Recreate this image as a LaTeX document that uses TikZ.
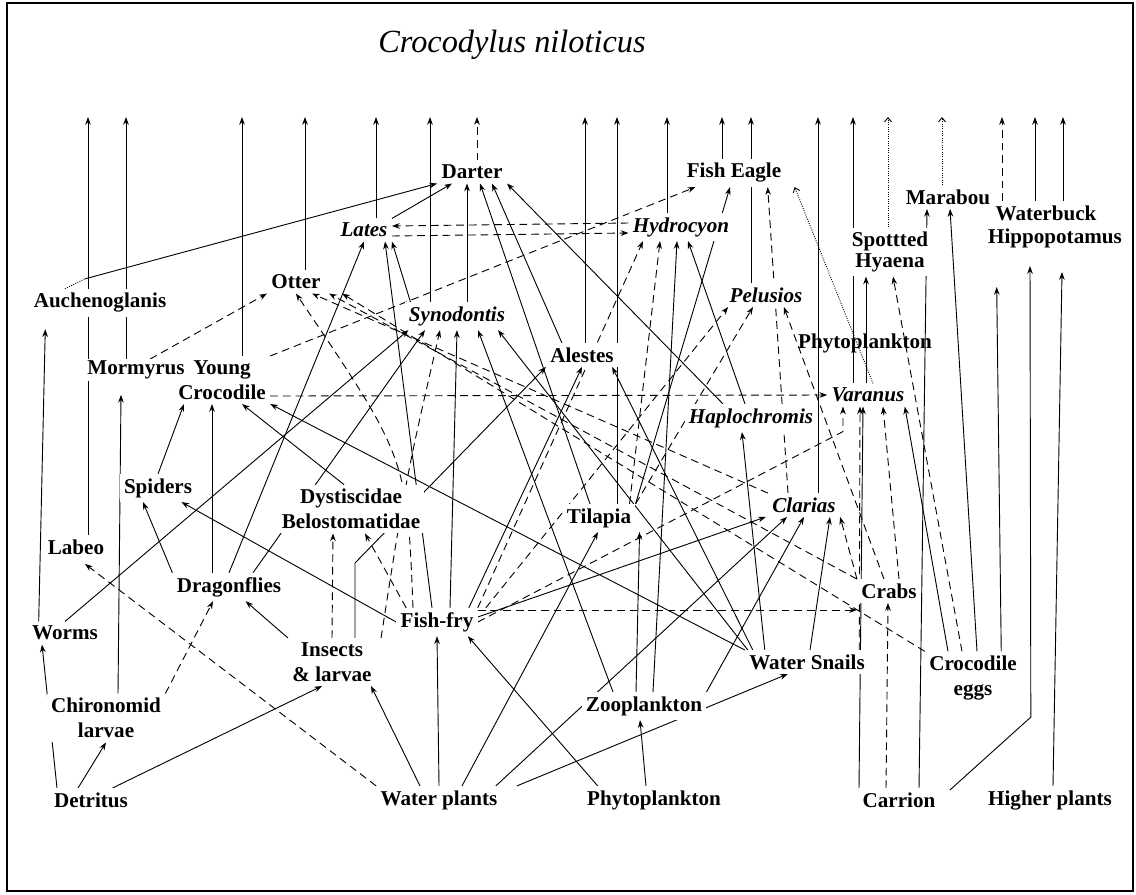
\documentclass[tikz,border=0pt]{standalone}
\usepackage{fontspec}
\setmainfont{Liberation Serif}
\usetikzlibrary{arrows.meta,backgrounds,calc}
\begin{document}
\begin{tikzpicture}[x=0.025cm,y=-0.025cm,
        lab/.style={font=\bfseries\fontsize{15}{17.8}\selectfont,align=center,inner sep=3pt,fill=white},
        ilab/.style={lab,font=\bfseries\itshape\fontsize{15}{17.8}\selectfont},
        ar/.style={-{Stealth[length=5.5pt,width=4pt]},line width=0.65pt},
        da/.style={ar,dash pattern=on 5.5pt off 3.5pt},
        dt/.style={-{Straight Barb[length=3pt,width=5pt]},line width=0.65pt,densely dotted}]
        \useasboundingbox (0,0) rectangle (1136,894);
        \draw[line width=1pt] (7,3) rectangle (1133,891);
        \node[font=\itshape\fontsize{23}{27}\selectfont] (title) at (512,45) {Crocodylus niloticus};

        % predatori
        \node[lab] (darter) at (472,172) {Darter};
        \node[lab] (fisheagle) at (734,173) {Fish Eagle};
        \node[ilab] (lates) at (364,230) {Lates};
        \node[ilab] (hydrocyon) at (681,227) {Hydrocyon};
        \node[lab] (marabou) at (948,197) {Marabou};
        \node[lab] (waterbuck) at (1046,213) {Waterbuck};
        \node[lab] (hippo) at (1055,238) {Hippopotamus};
        \node[lab,font=\bfseries\fontsize{15}{15}\selectfont] (hyaena) at (890,252) {Spottted\\Hyaena};
        \node[lab] (otter) at (296,282) {Otter};
        \node[lab] (auch) at (100,303) {Auchenoglanis};
        \node[ilab] (synodontis) at (457,316) {Synodontis};
        \node[ilab] (pelusios) at (766,295) {Pelusios};
        \node[lab,fill=none] (phytoup) at (865,343) {Phytoplankton};
        \node[lab] (youngcroc) at (222,380) {Young\\Crocodile};
        \node[lab,inner sep=1pt] (mormyrus) at (136,370) {Mormyrus};
        \node[lab] (alestes) at (582,355) {Alestes};
        \node[ilab] (varanus) at (868,395) {Varanus};
        \node[ilab] (haplo) at (751,418) {Haplochromis};
        % prede
        \node[lab] (spiders) at (158,488) {Spiders};
        \node[lab] (dyst) at (351,509) {Dystiscidae\\Belostomatidae};
        \node[lab] (tilapia) at (599,518) {Tilapia};
        \node[ilab] (clarias) at (804,505) {Clarias};
        \node[lab] (labeo) at (76,547) {Labeo};
        \node[lab] (dragonflies) at (229,587) {Dragonflies};
        \node[lab] (crabs) at (889,591) {Crabs};
        \node[lab] (worms) at (65,633) {Worms};
        \node[lab] (fishfry) at (437,622) {Fish-fry};
        \node[lab] (insects) at (332,662) {Insects\\\& larvae};
        \node[lab] (snails) at (807,662) {Water Snails};
        \node[lab] (crocegg) at (973,678) {Crocodile\\eggs};
        \node[lab] (zooplankton) at (644,706) {Zooplankton};
        \node[lab] (chironomid) at (106,718) {Chironomid\\larvae};
        % base
        \node[lab] (detritus) at (91,800) {Detritus};
        \node[lab] (waterplants) at (439,800) {Water plants};
        \node[lab] (phytolow) at (654,800) {Phytoplankton};
        \node[lab] (carrion) at (899,800) {Carrion};
        \node[lab] (higher) at (1050,800) {Higher plants};

        \foreach \n/\x in {labeo/88,mormyrus/126,youngcroc/242,otter/305,lates/376,synodontis/430,darter/477,alestes/585,tilapia/617,hydrocyon/667,fisheagle/722,pelusios/751,clarias/818,varanus/853,hyaena/888,marabou/942,wbA/1002,wbB/1035,wbC/1063}
          \coordinate (top\n) at (\x,117);

        \begin{scope}[on background layer]
        % frecce verso il coccodrillo
        \foreach \n in {labeo,mormyrus,youngcroc,otter,lates,synodontis,alestes,tilapia,hydrocyon,fisheagle,pelusios,clarias,varanus}
          \draw[ar] (top\n |- \n.north) -- (top\n);
        \draw[da] (topdarter |- darter.north) -- (topdarter);
        \draw[dt] (tophyaena |- hyaena.north) -- (tophyaena);
        \draw[dt] (topmarabou |- marabou.north) -- (topmarabou);
        \draw[da] (topwbA |- waterbuck.north) -- (topwbA);
        \draw[ar] (topwbB |- waterbuck.north) -- (topwbB);
        \draw[ar] (topwbC |- waterbuck.north) -- (topwbC);

        % darter
        \draw[densely dotted,line width=0.65pt] ($(auch.north)+(-35,0)$) -- ($(auch.north)+(-15,-10)$);
        \draw[ar] ($(auch.north)+(-15,-10)$) -- (darter.south west);
        \draw[ar] (lates.north east) -- ($(darter.south)+(-20,0)$);
        \draw[ar] ($(synodontis.north)+(10,0)$) -- ($(darter.south)+(-5,0)$);
        \draw[ar] ($(tilapia.north)+(-9,0)$) -- ($(darter.south)+(8,0)$);
        \draw[ar] ($(alestes.north)+(-20,0)$) -- ($(darter.south)+(20,0)$);
        \draw[ar] ($(haplo.north)+(-28,0)$) -- (darter.south east);

        % lates e hydrocyon
        \draw[ar] (dragonflies.north) -- (lates.south);
        \draw[ar] ($(fishfry.north)+(-5,0)$) -- ($(lates.south)+(21,0)$);
        \draw[ar] ($(synodontis.north west)+(6,0)$) -- (lates.south east);
        \draw[da] ($(hydrocyon.west)+(0,-4)$) -- ($(lates.east)+(0,-4)$);
        \draw[da] ($(lates.east)+(0,6)$) -- ($(hydrocyon.west)+(0,6)$);
        \draw[da] (fishfry.north east) -- ($(hydrocyon.south)+(-38,0)$);
        \draw[da] ($(tilapia.north east)+(-6,0)$) -- ($(hydrocyon.south)+(-21,0)$);
        \draw[ar] ($(zooplankton.north)+(9,0)$) -- ($(hydrocyon.south)+(-4,0)$);
        \draw[ar] ($(haplo.north)+(-6,0)$) -- ($(hydrocyon.south)+(7,0)$);

        % fish eagle
        \draw[da] (youngcroc.north east) -- ($(fisheagle.south west)+(13,0)$);
        \draw[ar] (tilapia.north east) -- ($(fisheagle.south)+(-4,0)$);
        \draw[da] ($(clarias.north)+(-16,0)$) -- ($(fisheagle.south east)+(-18,0)$);
        \draw[dt] ($(varanus.north)+(5,0)$) -- ($(fisheagle.south east)+(9,0)$);

        % otter
        \draw[da] ($(mormyrus.north)+(14,0)$) -- (otter.south west);
        \draw[da] ($(fishfry.north)+(-24,0)$) .. controls ($(fishfry.north)+(-30,-150)$) .. (otter.south);
        \draw[da] (clarias.north west) -- ($(otter.south east)+(-13,0)$);
        \draw[da] (crabs.north west) -- ($(otter.south east)+(4,0)$);
        \draw[da] (crocegg.north west) -- ($(otter.south east)+(17,0)$);

        % synodontis
        \draw[ar] (worms.north) -- ($(synodontis.south west)+(4,0)$);
        \draw[ar] ($(dragonflies.north)+(24,0)$) -- ($(synodontis.south)+(-32,0)$);
        \draw[da] ($(insects.north east)+(5,0)$) .. controls ($(insects.north east)+(30,-160)$) .. ($(synodontis.south)+(-17,0)$);
        \draw[ar] ($(fishfry.north)+(13,0)$) -- (synodontis.south);
        \draw[ar] ($(zooplankton.north)+(-31,0)$) -- ($(synodontis.south)+(21,0)$);
        \draw[ar] ($(snails.north west)+(3,0)$) -- ($(synodontis.south)+(41,0)$);

        % pelusios e alestes
        \draw[da] ($(fishfry.north east)+(8,0)$) -- ($(pelusios.south west)+(3,0)$);
        \draw[da] (tilapia.north east) -- ($(pelusios.south)+(-13,0)$);
        \draw[da] ($(crabs.north)+(-5,0)$) -- ($(pelusios.south east)+(-23,0)$);
        \draw[ar] ($(insects.north)+(23,0)$) -- ++(0,-75) -- (alestes.south west);
        \draw[ar] ($(fishfry.north east)+(-9,0)$) -- (alestes.south);
        \draw[ar] ($(snails.north west)+(8,0)$) -- ($(alestes.south east)+(-6,0)$);

        % young crocodile
        \draw[ar] (spiders.north) -- ($(youngcroc.south)+(-38,0)$);
        \draw[ar] ($(dragonflies.north)+(-17,0)$) -- ($(youngcroc.south)+(-10,0)$);
        \draw[ar] ($(dyst.north)+(-7,0)$) -- ($(youngcroc.south)+(20,0)$);
        \draw[ar] (snails.north west) -- (youngcroc.south east);

        % varanus
        \draw[da] ($(youngcroc.south east)+(0,-8)$) -- (varanus.west);
        \draw[da] (fishfry.east) -- ($(varanus.south)+(-25,25)$) -- ($(varanus.south)+(-25,0)$);
        \draw[ar] ($(carrion.north)+(-40,0)$) -- ($(varanus.south)+(-5,0)$);
        \draw[da] ($(crabs.north)+(10,0)$) -- ($(varanus.south)+(15,0)$);
        \draw[ar] ($(crocegg.north)+(-25,0)$) -- ($(varanus.south east)+(-4,0)$);
        \draw[da] ($(snails.north east)+(-10,0)$) -- ($(varanus.south)+(-8,0)$);

        % hyaena, marabou, hippopotamus
        \draw[ar] ($(varanus.north)+(-2,0)$) -- ($(hyaena.south)+(-24,0)$);
        \draw[da] ($(crocegg.north)+(-11,0)$) -- ($(hyaena.south)+(3,0)$);
        \draw[ar] ($(carrion.north)+(20,0)$) -- ($(marabou.south)+(-21,0)$);
        \draw[ar] ($(crocegg.north)+(4,0)$) -- ($(marabou.south)+(2,0)$);
        \draw[ar] ($(crocegg.north east)+(-20,0)$) -- ($(hippo.south west)+(13,35)$);
        \draw[ar] ($(carrion.north east)+(10,2)$) -- ++(81,-73) -- ($(hippo.south)+(-25,14)$);
        \draw[ar] ($(higher.north)+(3,0)$) -- ($(hippo.south)+(7,20)$);

        % clarias
        \draw[ar] ($(fishfry.east)+(0,-5)$) -- ($(clarias.south west)+(-2,0)$);
        \draw[ar] ($(waterplants.north east)+(-6,0)$) -- ($(clarias.south)+(-17,0)$);
        \draw[ar] (zooplankton.north east) -- (clarias.south);
        \draw[ar] ($(snails.north)+(3,0)$) -- ($(clarias.south)+(26,0)$);
        \draw[da] (crabs.north west) -- (clarias.south east);

        % tilapia, crabs, spiders, coleotteri
        \draw[ar] ($(waterplants.north)+(23,0)$) -- ($(tilapia.south)+(-1,0)$);
        \draw[ar] ($(zooplankton.north)+(-8,0)$) -- ($(tilapia.south east)+(4,0)$);
        \draw[da] ($(fishfry.east)+(0,-12)$) -- ($(crabs.west)+(0,19)$);
        \draw[da] ($(carrion.north)+(-13,0)$) -- ($(crabs.south)+(-1,0)$);
        \draw[ar] (dragonflies.north west) -- ($(spiders.south)+(-15,0)$);
        \draw[ar] (fishfry.west) -- ($(spiders.south east)+(-15,0)$);
        \draw[da] (insects.north) -- ($(dyst.south)+(-18,0)$);
        \draw[da] ($(fishfry.north west)+(10,0)$) -- ($(dyst.south)+(14,0)$);

        % fondo della rete
        \draw[da] (chironomid.north east) -- ($(dragonflies.south)+(-16,0)$);
        \draw[ar] (insects.north west) -- ($(dragonflies.south east)+(-40,0)$);
        \draw[da] (waterplants.north west) -- ($(labeo.south)+(9,5)$);
        \draw[ar] ($(detritus.north east)+(-20,0)$) -- ($(insects.south)+(-10,0)$);
        \draw[ar] ($(waterplants.north)+(-19,0)$) -- ($(insects.south east)+(-5,0)$);
        \draw[ar] ($(detritus.north)+(-34,0)$) -- ($(worms.south)+(-23,0)$);
        \draw[ar] ($(detritus.north)+(-13,0)$) -- (chironomid.south);
        \draw[ar] ($(chironomid.north)+(12,0)$) -- ($(mormyrus.south)+(-15,14)$);
        \draw[ar] ($(worms.north west)+(11,0)$) -- ($(auch.south west)+(16,12)$);
        \draw[ar] (waterplants.north) -- (fishfry.south);
        \draw[ar] ($(phytolow.north west)+(15,0)$) -- ($(fishfry.south east)+(-10,0)$);
        \draw[ar] ($(phytolow.north)+(-8,0)$) -- ($(zooplankton.south)+(-4,0)$);
        \draw[ar] ($(waterplants.north east)+(15,0)$) -- ($(snails.south west)+(43,0)$);
        \draw[ar] ($(snails.north west)+(20,0)$) -- ($(haplo.south)+(-9,0)$);
        \end{scope}
    \end{tikzpicture}
\end{document}
